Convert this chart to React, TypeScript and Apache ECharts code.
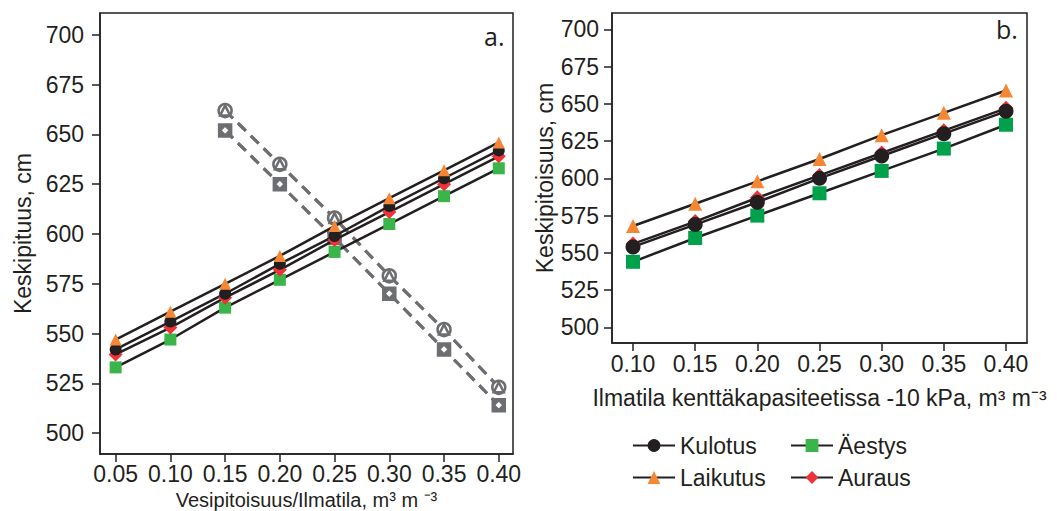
import React, { useEffect, useRef } from "react";
import * as echarts from "echarts";

// Panel a: Vesipitoisuus (solid) and Ilmatila (dashed grey)
const xLeft = [0.05, 0.1, 0.15, 0.2, 0.25, 0.3, 0.35, 0.4];
const leftKulotus = [542, 556, 570, 585, 599, 614, 628, 642];
const leftLaikutus = [547, 561, 575, 589, 604, 618, 632, 646];
const leftAestys = [533, 547, 563, 577, 591, 605, 619, 633];
const leftAuraus = [539.5, 553, 568, 582, 597, 611, 625, 639];

const xGray = [0.15, 0.2, 0.25, 0.3, 0.35, 0.4];
const grayUpper = [662, 635, 608, 579, 552, 523];
const grayLower = [652, 625, 598, 570, 542, 514];

// Panel b
const xRight = [0.1, 0.15, 0.2, 0.25, 0.3, 0.35, 0.4];
const rightKulotus = [554, 569, 584, 600, 615, 630, 645];
const rightLaikutus = [568, 583, 598, 613, 629, 644, 659];
const rightAestys = [544, 560, 575, 590, 605, 620, 636];
const rightAuraus = [556, 571, 587, 602, 617, 632, 647];

const xTicksLeft = [0.05, 0.1, 0.15, 0.2, 0.25, 0.3, 0.35, 0.4];
const xTicksRight = [0.1, 0.15, 0.2, 0.25, 0.3, 0.35, 0.4];
const yTicks = [500, 525, 550, 575, 600, 625, 650, 675, 700];

const names = ["Kulotus", "Laikutus", "Äestys", "Auraus"];

const INK = "#231f20";
const GRAY = "#6d6e71";
const FONT = "Liberation Sans";
const FS = 23;

const pairs = (xs: number[], ys: number[]) => xs.map((x, i) => [x, ys[i]]);

export default function App() {
  const ref = useRef<HTMLDivElement>(null);
  useEffect(() => {
    if (!ref.current) return;
    const chart = echarts.init(ref.current, undefined, { renderer: "svg" });

    const mkX = (gi: number, min: number, max: number, ticks: number[], name: string, gap: number, margin: number, nameSize: number) => ({
      type: "value",
      gridIndex: gi,
      min,
      max,
      name,
      nameLocation: "middle",
      nameGap: gap,
      nameTextStyle: { fontFamily: FONT, fontSize: nameSize, color: INK },
      splitLine: { show: false },
      axisLine: { show: true, lineStyle: { color: INK, width: 1.5 } },
      axisTick: { show: true, length: 8, lineStyle: { color: INK, width: 1.5 }, customValues: ticks },
      axisLabel: {
        fontFamily: FONT,
        fontSize: FS,
        color: INK,
        margin,
        customValues: ticks,
        formatter: (v: number) => v.toFixed(2),
      },
    });
    const mkY = (gi: number, name: string, gap: number, margin: number) => ({
      type: "value",
      gridIndex: gi,
      min: 489.5,
      max: 711,
      name,
      nameLocation: "middle",
      nameGap: gap,
      nameTextStyle: { fontFamily: FONT, fontSize: FS, color: INK },
      splitLine: { show: false },
      axisLine: { show: true, lineStyle: { color: INK, width: 1.5 } },
      axisTick: { show: true, length: 8, lineStyle: { color: INK, width: 1.5 }, customValues: yTicks },
      axisLabel: {
        fontFamily: FONT,
        fontSize: FS,
        color: INK,
        margin,
        customValues: yTicks,
        formatter: (v: number) => String(Math.round(v)),
      },
    });

    const colored = (
      gi: number,
      name: string,
      xs: number[],
      ys: number[],
      symbol: string,
      size: number,
      color: string
    ) => ({
      type: "line",
      name,
      xAxisIndex: gi,
      yAxisIndex: gi,
      data: pairs(xs, ys),
      symbol,
      symbolSize: size,
      itemStyle: { color, borderWidth: 0 },
      lineStyle: { color: INK, width: 2.5 },
      z: 5,
    });

    const gray = (name: string, ys: number[], symbol: string, size: number, fill: string) => ({
      type: "line",
      name,
      xAxisIndex: 0,
      yAxisIndex: 0,
      data: pairs(xGray, ys),
      symbol,
      symbolSize: size,
      showAllSymbol: true,
      itemStyle: { color: fill, borderColor: GRAY, borderWidth: 2.5 },
      lineStyle: { color: GRAY, width: 3, type: [11, 7] },
      z: 3,
    });

    const greenL = "#3ab54a";
    const greenR = "#00a14b";
    const orange = "#f58634";
    const red = "#ee3338";

    chart.setOption({
      animation: false,
      backgroundColor: "#ffffff",
      grid: [
        { left: 100, top: 13, width: 413, height: 441, show: true, borderColor: INK, borderWidth: 1.5, backgroundColor: "transparent", outerBoundsMode: "none", containLabel: false },
        { left: 612, top: 13, width: 415, height: 330, show: true, borderColor: INK, borderWidth: 1.5, backgroundColor: "transparent", outerBoundsMode: "none", containLabel: false },
      ],
      xAxis: [
        mkX(0, 0.0357, 0.413, xTicksLeft, "Vesipitoisuus/Ilmatila, m³ m ⁻³", 28, 8, 20),
        mkX(1, 0.0831, 0.4169, xTicksRight, "Ilmatila kenttäkapasiteetissa -10 kPa, m³ m⁻³", 43, 9, FS),
      ],
      yAxis: [mkY(0, "Keskipituus, cm", 66, 16), mkY(1, "Keskipitoisuus, cm", 54, 13)],
      legend: [
        {
          data: ["Kulotus", "Laikutus"],
          orient: "vertical",
          left: 627,
          top: 429,
          itemWidth: 42,
          itemHeight: 16,
          itemGap: 9,
          textStyle: { fontFamily: FONT, fontSize: FS, color: INK },
        },
        {
          data: ["Äestys", "Auraus"],
          orient: "vertical",
          left: 785,
          top: 429,
          itemWidth: 42,
          itemHeight: 16,
          itemGap: 9,
          textStyle: { fontFamily: FONT, fontSize: FS, color: INK },
        },
      ],
      graphic: [
        { type: "text", left: 484, top: 23, style: { text: "a.", fontFamily: "Open Sans", fontSize: 25, fill: INK } },
        { type: "text", left: 996, top: 16, style: { text: "b.", fontFamily: "Open Sans", fontSize: 25, fill: INK } },
      ],
      series: [
        gray("Kulotus (ilmatila)", grayUpper, "circle", 13, "#ffffff"),
        gray("Laikutus (ilmatila)", grayUpper, "triangle", 10, "#ffffff"),
        gray("Äestys (ilmatila)", grayLower, "rect", 12, GRAY),
        gray("Auraus (ilmatila)", grayLower, "diamond", 10, "#ffffff"),
        colored(0, names[2], xLeft, leftAestys, "rect", 12, greenL),
        colored(0, names[3], xLeft, leftAuraus, "diamond", 14, red),
        colored(0, names[0], xLeft, leftKulotus, "circle", 12, INK),
        colored(0, names[1], xLeft, leftLaikutus, "triangle", 12, orange),
        colored(1, names[2], xRight, rightAestys, "rect", 14, greenR),
        colored(1, names[3], xRight, rightAuraus, "diamond", 15, red),
        colored(1, names[1], xRight, rightLaikutus, "triangle", 14, orange),
        colored(1, names[0], xRight, rightKulotus, "circle", 15, INK),
      ],
    });
    return () => chart.dispose();
  }, []);
  return <div ref={ref} style={{ position: "fixed", left: 0, top: 0, width: 1061, height: 511 }} />;
}
